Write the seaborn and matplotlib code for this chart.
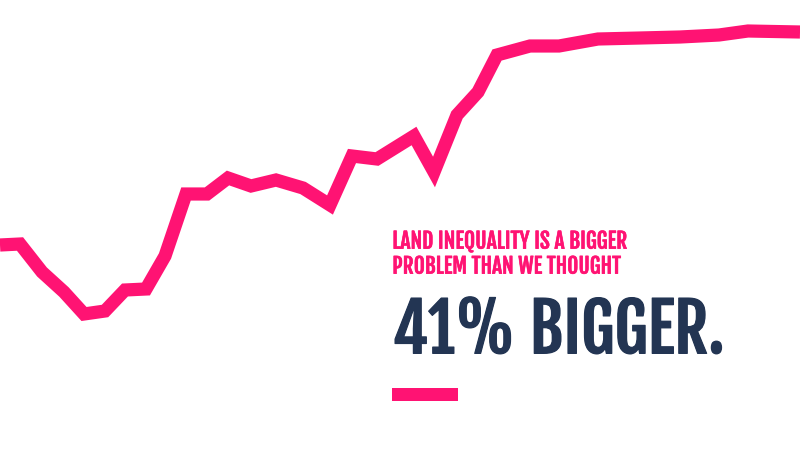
import matplotlib
matplotlib.use("Agg")
import matplotlib.pyplot as plt
import seaborn as sns
import pandas as pd
from matplotlib.patches import Rectangle
from matplotlib.textpath import TextPath
from matplotlib.font_manager import FontProperties
import matplotlib.patheffects as pe

# data (position along time axis, index value)
xs = [0, 20, 42, 64, 84, 105, 125, 146, 165, 186, 207, 228, 251, 276, 303, 330,
      352, 377, 414, 434, 457, 478, 497, 530, 559, 598, 640, 680, 719, 748, 800]
vals = [205, 206, 178, 158, 136, 139, 160, 161, 194, 256, 256, 272, 264, 270, 262, 245,
        294, 291, 314, 278, 335, 358, 395, 404, 404, 411, 412, 413, 415, 419, 418]
title_lines = ["LAND INEQUALITY IS A BIGGER", "PROBLEM THAN WE THOUGHT"]
headline = "41% BIGGER."

PINK = "#FF1373"
NAVY = "#233553"

sns.set_theme(style="white")
FAM = ['Fjalla One', 'Oswald', 'DejaVu Sans']
plt.rcParams['font.family'] = FAM

df = pd.DataFrame({"x": xs, "v": vals})
fig = plt.figure(figsize=(8, 4.5), dpi=100)
ax = fig.add_axes([0, 0, 1, 1])
sns.lineplot(data=df, x="x", y="v", ax=ax, color=PINK, linewidth=9.5,
             solid_joinstyle="miter", solid_capstyle="butt")
ax.set_xlim(0, 800)
ax.set_ylim(0, 450)
ax.set_axis_off()

fig.canvas.draw()
r = fig.canvas.get_renderer()
cap_ratio = TextPath((0, 0), "H", size=100, prop=FontProperties(family=FAM)).get_extents().height / 100

def label(text, x_px, base_px, cap_px, width_px, stroke_px, color):
    glyph_cap = cap_px - stroke_px
    size_h = glyph_cap / cap_ratio * 72 / 100
    t = ax.text(x_px / 800 + stroke_px / 2 / 800, 1 - base_px / 450 + stroke_px / 2 / 450, text,
                transform=ax.transAxes, fontsize=size_h, color=color,
                va="baseline", ha="left",
                path_effects=[pe.withStroke(linewidth=stroke_px * 0.72, foreground=color)])
    w = t.get_window_extent(renderer=r).width
    size_w = size_h * (width_px - stroke_px) / w
    t.set_fontsize((size_h * size_w) ** 0.5)
    return t

label(title_lines[0], 392, 249, 16, 275, 0.6, PINK)
label(title_lines[1], 392, 274, 16, 265, 0.6, PINK)
label(headline, 392, 354, 51, 370, 1.2, NAVY)

ax.add_patch(Rectangle((392/800, 1-401/450), 66/800, 13/450, transform=ax.transAxes,
                       color=PINK, lw=0))
fig.savefig("out.png", dpi=100)
